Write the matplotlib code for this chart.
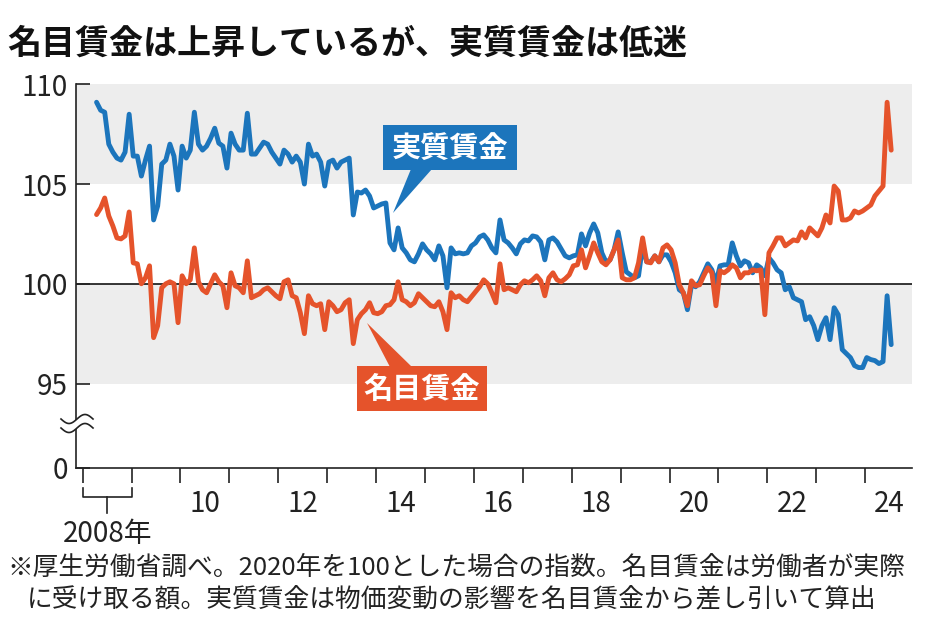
import matplotlib
matplotlib.use('Agg')
import matplotlib.pyplot as plt
import matplotlib.transforms as mtransforms
from matplotlib.patches import Rectangle, Polygon
import numpy as np
import pandas as pd

plt.rcParams['font.family'] = ['Noto Sans CJK JP', 'DejaVu Sans']

# ---------------- data ----------------
months = pd.period_range('2008-04', '2024-07', freq='M')

real_wage = [
    109.1, 108.7, 108.6, 107.0, 106.6, 106.3, 106.2, 106.6, 108.5,
    106.4, 106.4, 105.4, 106.2, 106.9, 103.2, 103.9, 106.0, 106.2, 107.0, 106.4, 104.7, 106.9, 106.3, 106.7,
    108.6, 107.0, 106.7, 106.9, 107.3, 107.8, 107.05, 106.9, 105.8, 107.55, 107.0, 106.7,
    106.7, 108.55, 106.5, 106.5, 106.8, 107.1, 107.0, 106.6, 106.3, 106.0, 106.7, 106.5,
    106.1, 106.4, 106.1, 105.0, 107.0, 106.4, 106.5, 106.1, 104.9, 106.1, 106.2, 105.8,
    106.1, 106.2, 106.3, 103.45, 104.6, 104.55, 104.7, 104.4, 103.8, 103.9, 104.0, 104.05,
    102.05, 101.7, 102.8, 101.8, 101.55, 101.2, 101.1, 101.5, 102.0, 101.7, 101.5, 101.2,
    101.9, 101.4, 99.8, 101.8, 101.5, 101.55, 101.5, 101.55, 101.9, 102.05, 102.35, 102.45,
    102.2, 101.8, 101.55, 103.2, 102.2, 102.05, 101.8, 101.5, 102.0, 102.2, 102.15, 102.4,
    102.35, 102.1, 101.2, 102.2, 102.3, 102.1, 101.75, 101.4, 101.3, 101.4, 101.45, 102.5,
    101.9, 102.55, 103.0, 102.55, 101.55, 101.1, 101.2, 101.7, 102.6, 101.55, 100.6, 100.45,
    100.3, 100.4, 101.9, 101.1, 101.1, 101.4, 101.1, 101.45, 101.45, 101.1, 100.55, 99.7,
    99.55, 98.7, 99.95, 99.85, 100.1, 100.55, 101.0, 100.7, 100.05, 100.9, 100.95, 100.95,
    102.05, 101.4, 100.9, 101.15, 101.05, 100.55, 100.95, 100.8, 100.4, 101.3, 101.05, 100.7,
    100.55, 99.7, 99.85, 99.3, 99.2, 99.1, 98.2, 98.35, 97.9, 97.2, 97.9, 98.3,
    97.2, 98.8, 98.45, 96.7, 96.5, 96.3, 95.9, 95.8, 95.8, 96.3, 96.2, 96.15,
    96.0, 96.1, 99.4, 96.95,
]

nominal_wage = [
    103.47, 103.8, 104.3, 103.4, 102.9, 102.3, 102.25, 102.4, 103.6,
    101.05, 101.0, 100.0, 100.3, 100.9, 97.3, 97.9, 99.8, 100.0, 100.1, 100.0, 98.05, 100.4, 100.0, 100.2,
    101.8, 100.1, 99.7, 99.55, 100.0, 100.45, 100.1, 99.9, 98.8, 100.55, 99.9, 99.8,
    99.55, 101.15, 99.3, 99.4, 99.5, 99.7, 99.8, 99.6, 99.4, 99.25, 100.1, 100.2,
    99.4, 99.3, 98.55, 97.5, 99.4, 99.0, 98.9, 99.0, 97.7, 99.1, 98.9, 98.6,
    98.7, 99.05, 99.2, 97.0, 98.2, 98.5, 98.7, 99.05, 98.55, 98.5, 98.6, 98.9,
    98.95, 99.2, 100.1, 99.2, 99.1, 98.9, 99.05, 99.5, 99.3, 99.1, 98.9, 98.85,
    99.1, 98.6, 97.7, 99.55, 99.3, 99.4, 99.2, 99.1, 99.35, 99.6, 99.85, 100.2,
    100.0, 99.55, 99.05, 101.0, 99.7, 99.8, 99.7, 99.6, 99.95, 100.15, 100.05, 100.2,
    100.4, 100.15, 99.4, 100.3, 100.55, 100.2, 100.1, 100.25, 100.45, 100.9, 100.95, 101.7,
    100.8, 101.4, 102.05, 101.55, 101.1, 100.95, 101.2, 101.7, 102.2, 100.3, 100.2, 100.2,
    100.3, 101.05, 102.3, 101.1, 101.05, 101.4, 101.1, 101.8, 101.95, 101.7, 101.05, 99.95,
    99.55, 98.9, 100.15, 99.9, 99.95, 100.4, 100.8, 100.55, 98.9, 100.65, 100.55, 100.7,
    100.95, 100.8, 100.3, 100.55, 100.55, 100.7, 100.65, 100.7, 98.45, 101.55, 101.9, 102.3,
    102.3, 101.9, 102.05, 102.2, 102.15, 102.6, 102.3, 102.8, 102.6, 102.4, 102.8, 103.45,
    103.05, 104.9, 104.65, 103.2, 103.2, 103.3, 103.65, 103.55, 103.65, 103.8, 103.95, 104.4,
    104.65, 104.9, 109.1, 106.7,
]

y_tick_values = [0, 95, 100, 105, 110]
y_tick_labels = ['0', '95', '100', '105', '110']
x_label_years = [2010, 2012, 2014, 2016, 2018, 2020, 2022, 2024]
x_label_texts = ['10', '12', '14', '16', '18', '20', '22', '24']
first_year_label = '2008年'

title = '名目賃金は上昇しているが、実質賃金は低迷'
note_line1 = '※厚生労働省調べ。2020年を100とした場合の指数。名目賃金は労働者が実際'
note_line2 = 'に受け取る額。実質賃金は物価変動の影響を名目賃金から差し引いて算出'
label_real = '実質賃金'
label_nominal = '名目賃金'

# ---------------- style ----------------
BLUE = '#1C75BC'
ORANGE = '#E5532B'
BAND = '#EDEDED'
W, H = 934, 635

def fx(px):
    return px / W

def fy(py):
    return 1 - py / H

BREAK_GAP = 4.21  # display units used for the 0..95 compressed range

def ypos(v):
    return v if v >= 95 else 95 - BREAK_GAP * (95 - v) / 95

fig = plt.figure(figsize=(W / 100, H / 100), dpi=100)
ax = fig.add_axes([fx(76), fy(467.5), fx(912) - fx(76), (467.5 - 84.3) / H])

x = np.array(months.year) + (np.array(months.month) - 1 + 0.4) / 12

ax.axhspan(105, 110, color=BAND, lw=0, zorder=0)
ax.axhspan(95, 100, color=BAND, lw=0, zorder=0)
ax.axhline(100, color='black', lw=1.1, zorder=1)

ax.plot(x, real_wage, color=BLUE, lw=3.5, zorder=3,
        solid_joinstyle='round', solid_capstyle='round')
ax.plot(x, nominal_wage, color=ORANGE, lw=3.5, zorder=4,
        solid_joinstyle='round', solid_capstyle='round')

ax.set_xlim(2007.863, 2024.959)
ax.set_ylim(ypos(0), 110)

for s in ['top', 'right']:
    ax.spines[s].set_visible(False)
for s in ['left', 'bottom']:
    ax.spines[s].set_linewidth(1.2)
    ax.spines[s].set_color('#222222')

ax.set_yticks([ypos(v) for v in y_tick_values])
ax.set_yticklabels(y_tick_labels)
ax.tick_params(axis='y', direction='in', length=10, width=1.2, labelsize=20,
               pad=6, colors='#222222')
ax.set_xticks(np.arange(2008, 2025))
ax.set_xticklabels([])
ax.tick_params(axis='x', direction='out', length=10.5, width=1.2, colors='#222222')

trans = mtransforms.blended_transform_factory(ax.transData, ax.transAxes)

def ax_frac(py):
    return (467.5 - py) / (467.5 - 84.3)

for yr, lab in zip(x_label_years, x_label_texts):
    ax.text(yr + 0.5, ax_frac(511.5), lab, transform=trans, ha='center',
            va='baseline', fontsize=20, color='#222222', clip_on=False)

# 2008 bracket
br_kw = dict(transform=trans, color='#222222', lw=1.2, clip_on=False)
ax.plot([2008.0, 2008.0, 2009.0, 2009.0],
        [ax_frac(488), ax_frac(497), ax_frac(497), ax_frac(488)], **br_kw)
ax.plot([2008.5, 2008.5], [ax_frac(497), ax_frac(513)], **br_kw)
ax.text(2008.5, ax_frac(541.5), first_year_label, transform=trans, ha='center',
        va='baseline', fontsize=20, color='#222222', clip_on=False)

# axis break squiggle
t = np.linspace(0, 1, 60)
sq_x = fx(61) + (fx(93) - fx(61)) * t
wave = 4.5 * np.sin(2 * np.pi * t)
upper = fy(419 + wave)
lower = fy(428 + wave)
fig.add_artist(Polygon(np.column_stack([np.r_[sq_x, sq_x[::-1]], np.r_[upper, lower[::-1]]]),
                       closed=True, facecolor='white', edgecolor='none',
                       transform=fig.transFigure, zorder=6))
fig.add_artist(plt.Line2D(sq_x, upper, color='#222222', lw=1.2, transform=fig.transFigure, zorder=7))
fig.add_artist(plt.Line2D(sq_x, lower, color='#222222', lw=1.2, transform=fig.transFigure, zorder=7))

# callout labels
def callout(x0, y0, x1, y1, tri, color, text):
    fig.add_artist(Rectangle((fx(x0), fy(y1)), fx(x1) - fx(x0), (y1 - y0) / H,
                             transform=fig.transFigure, facecolor=color,
                             edgecolor='none', zorder=8))
    fig.add_artist(Polygon([(fx(a), fy(b)) for a, b in tri], closed=True,
                           transform=fig.transFigure, facecolor=color,
                           edgecolor='none', zorder=8))
    fig.text(fx((x0 + x1) / 2), fy((y0 + y1) / 2), text, ha='center', va='center',
             color='white', fontsize=21, fontweight='bold', zorder=9)

callout(383, 125, 517, 170, [(411, 169), (432, 169), (393, 213)], BLUE, label_real)
callout(357, 366, 487, 411, [(390, 367), (412, 367), (367, 323)], ORANGE, label_nominal)

# title and notes
fig.text(fx(7), fy(43), title, ha='left', va='center', fontsize=24.5,
         fontweight='bold', color='#111111')
fig.text(fx(7), fy(568), note_line1, ha='left', va='center', fontsize=18.5,
         color='#222222')
fig.text(fx(27), fy(600), note_line2, ha='left', va='center', fontsize=18.5,
         color='#222222')

fig.savefig('out.png', dpi=100)
